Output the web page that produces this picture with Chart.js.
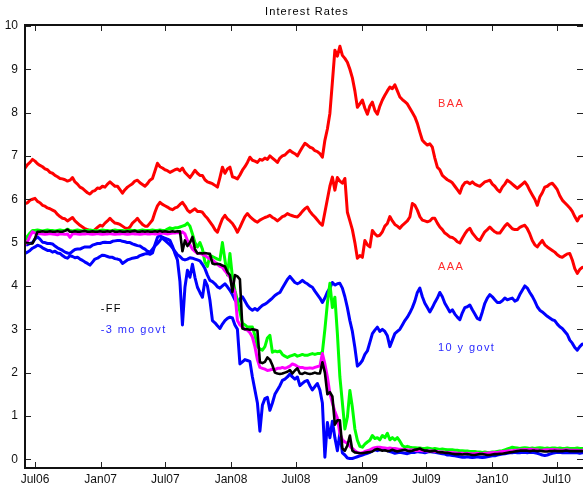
<!DOCTYPE html>
<html>
<head>
<meta charset="utf-8">
<script src="https://cdn.jsdelivr.net/npm/chart.js@4/dist/chart.umd.min.js"></script>
<style>
  html, body { margin: 0; padding: 0; background: #fff; }
  #wrap { width: 583px; height: 485px; }
</style>
</head>
<body>
<div id="wrap"><canvas id="c" width="583" height="485"></canvas></div>
<script>
// Weekly observations starting on this date, one value per week.
const firstWeek = '2006-06-03';
const axisOrigin = '2006-07-01';

const chartTitle = 'Interest Rates';
const xTickDates = ['2006-07-01', '2007-01-01', '2007-07-01', '2008-01-01', '2008-07-01',
                    '2009-01-01', '2009-07-01', '2010-01-01', '2010-07-01'];
const xTickLabels = ['Jul06', 'Jan07', 'Jul07', 'Jan08', 'Jul08', 'Jan09', 'Jul09', 'Jan10', 'Jul10'];
const yTicks = [0, 1, 2, 3, 4, 5, 6, 7, 8, 9, 10];

const baa = [
  6.72, 6.80, 6.85, 6.92, 6.88, 6.82, 6.78, 6.75, 6.70, 6.68,
  6.62, 6.60, 6.55, 6.52, 6.48, 6.47, 6.45, 6.42, 6.44, 6.50,
  6.40, 6.35, 6.28, 6.25, 6.20, 6.15, 6.12, 6.18, 6.20, 6.26,
  6.25, 6.30, 6.28, 6.35, 6.40, 6.35, 6.30, 6.30, 6.22, 6.14,
  6.22, 6.28, 6.32, 6.36, 6.42, 6.44, 6.38, 6.34, 6.30, 6.36,
  6.44, 6.48, 6.65, 6.83, 6.75, 6.72, 6.68, 6.66, 6.62, 6.65,
  6.68, 6.70, 6.66, 6.72, 6.62, 6.56, 6.50, 6.58, 6.67, 6.60,
  6.55, 6.55, 6.45, 6.40, 6.38, 6.36, 6.32, 6.28, 6.50, 6.74,
  6.60, 6.70, 6.74, 6.52, 6.50, 6.47, 6.56, 6.67, 6.75, 6.85,
  6.97, 6.90, 6.88, 6.85, 6.92, 6.90, 6.95, 6.92, 7.00, 6.95,
  6.90, 6.85, 6.95, 7.00, 7.02, 7.08, 7.13, 7.08, 7.05, 7.00,
  7.10, 7.20, 7.29, 7.25, 7.20, 7.18, 7.12, 7.10, 7.05, 6.97,
  7.36, 7.62, 7.98, 8.70, 9.44, 9.30, 9.53, 9.32, 9.25, 9.16,
  9.00, 8.80, 8.50, 8.12, 8.20, 8.29, 8.10, 7.96, 8.15, 8.24,
  8.05, 7.96, 8.15, 8.29, 8.40, 8.50, 8.59, 8.55, 8.64, 8.50,
  8.36, 8.30, 8.25, 8.20, 8.10, 8.00, 7.90, 7.75, 7.55, 7.36,
  7.30, 7.25, 7.28, 7.20, 6.95, 6.74, 6.68, 6.55, 6.50, 6.45,
  6.42, 6.38, 6.30, 6.22, 6.14, 6.30, 6.38, 6.40, 6.36, 6.40,
  6.35, 6.32, 6.30, 6.35, 6.40, 6.42, 6.44, 6.35, 6.30, 6.22,
  6.17, 6.28, 6.35, 6.44, 6.40, 6.35, 6.30, 6.25, 6.30, 6.35,
  6.40, 6.32, 6.20, 6.10, 6.00, 5.86, 6.05, 6.15, 6.28, 6.30,
  6.35, 6.37, 6.30, 6.22, 6.08, 5.98, 5.92, 5.86, 5.80, 5.72,
  5.60, 5.50, 5.60, 5.62
];

const aaa = [
  5.90, 5.92, 5.98, 6.00, 6.02, 5.95, 5.92, 5.86, 5.84, 5.80,
  5.78, 5.75, 5.72, 5.65, 5.60, 5.56, 5.55, 5.50, 5.54, 5.58,
  5.50, 5.45, 5.40, 5.36, 5.32, 5.30, 5.26, 5.24, 5.30, 5.35,
  5.40, 5.38, 5.45, 5.50, 5.56, 5.50, 5.45, 5.44, 5.42, 5.38,
  5.34, 5.32, 5.36, 5.45, 5.50, 5.56, 5.48, 5.42, 5.38, 5.38,
  5.45, 5.52, 5.70, 5.85, 5.93, 5.88, 5.85, 5.82, 5.78, 5.76,
  5.80, 5.82, 5.88, 5.93, 5.85, 5.75, 5.70, 5.74, 5.78, 5.72,
  5.72, 5.70, 5.62, 5.56, 5.48, 5.40, 5.30, 5.24, 5.40, 5.55,
  5.63, 5.55, 5.50, 5.44, 5.35, 5.24, 5.35, 5.48, 5.60, 5.67,
  5.60, 5.55, 5.50, 5.47, 5.52, 5.55, 5.58, 5.60, 5.63, 5.58,
  5.55, 5.50, 5.55, 5.60, 5.62, 5.67, 5.64, 5.62, 5.60, 5.59,
  5.65, 5.72, 5.78, 5.82, 5.72, 5.65, 5.59, 5.52, 5.45, 5.40,
  5.70, 6.00, 6.30, 6.51, 6.21, 6.50, 6.42, 6.37, 6.48, 5.70,
  5.50, 5.30, 5.00, 4.64, 4.70, 4.66, 5.05, 4.95, 4.90, 5.28,
  5.20, 5.15, 5.17, 5.25, 5.38, 5.44, 5.60, 5.50, 5.42, 5.38,
  5.33, 5.40, 5.45, 5.50, 5.59, 5.90, 5.86, 5.75, 5.60, 5.52,
  5.50, 5.48, 5.50, 5.56, 5.56, 5.45, 5.36, 5.30, 5.22, 5.18,
  5.13, 5.12, 5.08, 5.02, 4.99, 5.10, 5.20, 5.28, 5.33, 5.22,
  5.15, 5.08, 5.05, 5.15, 5.25, 5.30, 5.36, 5.30, 5.25, 5.22,
  5.22, 5.30, 5.38, 5.44, 5.38, 5.32, 5.30, 5.30, 5.35, 5.38,
  5.40, 5.32, 5.20, 5.05, 4.95, 4.90, 4.98, 5.05, 4.95, 4.90,
  4.86, 4.82, 4.78, 4.72, 4.68, 4.66, 4.70, 4.74, 4.75, 4.60,
  4.40, 4.29, 4.38, 4.43
];

const govt10y = [
  4.75, 4.78, 4.82, 4.87, 4.90, 4.94, 4.92, 4.88, 4.85, 4.82,
  4.82, 4.78, 4.80, 4.76, 4.75, 4.70, 4.66, 4.64, 4.70, 4.68,
  4.65, 4.66, 4.62, 4.59, 4.55, 4.52, 4.48, 4.55, 4.62, 4.64,
  4.68, 4.71, 4.70, 4.68, 4.66, 4.66, 4.63, 4.62, 4.60, 4.52,
  4.56, 4.60, 4.62, 4.64, 4.65, 4.66, 4.70, 4.72, 4.74, 4.75,
  4.73, 4.76, 4.95, 5.12, 5.17, 5.10, 5.05, 5.00, 4.95, 4.88,
  4.80, 4.72, 4.68, 4.62, 4.60, 4.62, 4.65, 4.64, 4.62, 4.60,
  4.58, 4.50, 4.40, 4.25, 4.13, 4.10, 4.05, 3.98, 3.95, 4.00,
  4.05, 3.98, 3.90, 3.80, 3.68, 3.60, 3.70, 3.75, 3.65, 3.55,
  3.48, 3.44, 3.48, 3.44, 3.50, 3.55, 3.58, 3.62, 3.67, 3.72,
  3.78, 3.82, 3.85, 3.95, 4.05, 4.15, 4.22, 4.15, 4.08, 4.05,
  4.08, 4.13, 4.08, 4.05, 4.00, 3.97, 3.88, 3.80, 3.72, 3.62,
  3.72, 3.86, 3.95, 4.08, 4.02, 4.05, 4.06, 3.95, 3.75, 3.50,
  3.20, 2.95, 2.58, 2.15, 2.20, 2.28, 2.42, 2.50, 2.70, 2.90,
  2.98, 3.05, 2.95, 3.00, 2.95, 2.85, 2.60, 2.75, 2.90, 2.95,
  3.00, 3.10, 3.20, 3.28, 3.38, 3.50, 3.65, 3.85, 3.95, 3.75,
  3.60, 3.50, 3.40, 3.50, 3.62, 3.72, 3.85, 3.75, 3.60, 3.50,
  3.40, 3.45, 3.35, 3.28, 3.22, 3.38, 3.50, 3.52, 3.56, 3.45,
  3.35, 3.25, 3.22, 3.40, 3.60, 3.72, 3.80, 3.75, 3.68, 3.62,
  3.62, 3.66, 3.72, 3.68, 3.70, 3.72, 3.65, 3.68, 3.80, 3.90,
  4.00, 3.95, 3.85, 3.76, 3.65, 3.52, 3.44, 3.40, 3.35, 3.30,
  3.26, 3.22, 3.20, 3.12, 3.06, 3.02, 2.95, 2.88, 2.75, 2.68,
  2.58, 2.52, 2.60, 2.66
];

const govt3m = [
  4.95, 4.95, 4.98, 5.00, 5.08, 5.13, 5.08, 5.01, 5.00, 4.98,
  4.98, 4.97, 4.92, 4.88, 4.85, 4.82, 4.78, 4.76, 4.75, 4.80,
  4.84, 4.85, 4.85, 4.88, 4.90, 4.90, 4.90, 4.94, 4.96, 4.98,
  4.98, 5.00, 5.01, 5.00, 5.00, 5.03, 5.04, 5.05, 5.05, 5.03,
  5.02, 5.00, 5.00, 4.97, 4.95, 4.93, 4.92, 4.88, 4.85, 4.80,
  4.78, 4.85, 4.92, 4.98, 5.05, 5.13, 5.10, 5.08, 5.05, 4.92,
  4.75, 4.60, 4.10, 3.10, 3.97, 4.36, 4.20, 4.50, 4.20, 3.97,
  3.85, 3.74, 4.13, 4.00, 3.67, 3.20, 3.15, 3.08, 3.02, 3.12,
  3.20, 3.25, 3.28, 3.26, 3.10, 3.00, 2.20, 2.25, 2.30, 2.28,
  2.26, 1.90, 1.60, 1.30, 0.65, 1.25, 1.40, 1.43, 1.13, 1.30,
  1.50, 1.60, 1.70, 1.82, 1.85, 1.90, 1.97, 1.90, 1.85, 1.90,
  1.70, 1.75, 1.80, 1.82, 1.70, 1.60, 1.68, 1.75, 1.60, 1.30,
  0.05, 0.85, 0.50, 0.88, 0.50, 0.20, 0.60, 0.15, 0.10, 0.03,
  0.02, 0.02, 0.04, 0.06, 0.08, 0.10, 0.12, 0.14, 0.16, 0.20,
  0.22, 0.20, 0.22, 0.25, 0.22, 0.20, 0.18, 0.16, 0.14, 0.15,
  0.16, 0.15, 0.14, 0.13, 0.15, 0.16, 0.16, 0.18, 0.17, 0.16,
  0.15, 0.17, 0.18, 0.17, 0.16, 0.15, 0.14, 0.13, 0.12, 0.10,
  0.10, 0.09, 0.08, 0.07, 0.06, 0.05, 0.05, 0.06, 0.05, 0.04,
  0.05, 0.06, 0.05, 0.04, 0.05, 0.06, 0.07, 0.08, 0.08, 0.10,
  0.11, 0.12, 0.13, 0.14, 0.15, 0.15, 0.16, 0.15, 0.15, 0.16,
  0.16, 0.15, 0.16, 0.16, 0.15, 0.14, 0.12, 0.10, 0.09, 0.10,
  0.12, 0.14, 0.15, 0.16, 0.16, 0.15, 0.15, 0.15, 0.15, 0.15,
  0.15, 0.15, 0.14, 0.15
];

const fedFunds = [
  5.00, 4.99, 4.98, 4.98, 5.10, 5.25, 5.25, 5.26, 5.25, 5.25,
  5.26, 5.25, 5.25, 5.26, 5.25, 5.25, 5.27, 5.30, 5.25, 5.25,
  5.26, 5.25, 5.25, 5.26, 5.27, 5.25, 5.25, 5.26, 5.25, 5.25,
  5.26, 5.25, 5.25, 5.26, 5.25, 5.27, 5.25, 5.25, 5.26, 5.25,
  5.25, 5.26, 5.25, 5.26, 5.27, 5.25, 5.25, 5.26, 5.25, 5.26,
  5.25, 5.25, 5.26, 5.25, 5.27, 5.25, 5.26, 5.25, 5.25, 5.26,
  5.25, 5.26, 5.26, 4.80, 5.05, 4.92, 5.00, 5.13, 4.85, 4.75,
  4.76, 4.75, 4.76, 4.75, 4.74, 4.52, 4.50, 4.51, 4.50, 4.47,
  4.45, 4.32, 4.25, 3.86, 4.25, 4.22, 4.15, 3.02, 3.00, 3.00,
  2.99, 3.00, 2.99, 2.97, 2.24, 2.22, 2.25, 2.35, 2.30, 2.17,
  2.00, 1.98, 1.97, 1.98, 2.00, 2.02, 2.06, 1.98, 2.05, 2.10,
  1.98, 1.97, 2.00, 1.98, 1.97, 1.98, 2.00, 1.98, 1.98, 2.24,
  2.00, 1.50, 1.55, 1.45, 0.80, 0.90, 0.90, 0.25, 0.20, 0.32,
  0.55, 0.20, 0.16, 0.15, 0.14, 0.14, 0.15, 0.16, 0.17, 0.18,
  0.22, 0.24, 0.22, 0.20, 0.21, 0.19, 0.20, 0.22, 0.20, 0.18,
  0.20, 0.21, 0.22, 0.20, 0.19, 0.20, 0.22, 0.23, 0.25, 0.22,
  0.20, 0.20, 0.18, 0.19, 0.20, 0.17, 0.16, 0.16, 0.15, 0.15,
  0.14, 0.13, 0.12, 0.12, 0.12, 0.11, 0.12, 0.12, 0.11, 0.10,
  0.10, 0.11, 0.12, 0.12, 0.11, 0.10, 0.10, 0.11, 0.12, 0.12,
  0.13, 0.13, 0.14, 0.15, 0.16, 0.17, 0.18, 0.19, 0.20, 0.20,
  0.20, 0.20, 0.19, 0.20, 0.20, 0.19, 0.20, 0.19, 0.18, 0.18,
  0.19, 0.19, 0.20, 0.19, 0.19, 0.19, 0.20, 0.20, 0.19, 0.19,
  0.19, 0.19, 0.19, 0.19
];

const magentaRate = [
  4.95, 5.02, 5.15, 5.25, 5.22, 5.20, 5.21, 5.20, 5.19, 5.20,
  5.21, 5.20, 5.19, 5.18, 5.20, 5.20, 5.19, 5.20, 5.12, 5.20,
  5.21, 5.20, 5.19, 5.20, 5.20, 5.21, 5.20, 5.19, 5.20, 5.21,
  5.20, 5.19, 5.20, 5.20, 5.21, 5.20, 5.19, 5.20, 5.20, 5.21,
  5.20, 5.19, 5.20, 5.21, 5.20, 5.20, 5.19, 5.20, 5.21, 5.20,
  5.20, 5.21, 5.20, 5.20, 5.21, 5.22, 5.21, 5.20, 5.21, 5.22,
  5.22, 5.23, 5.22, 5.25, 5.20, 5.05, 4.95, 4.85, 4.80, 4.75,
  4.75, 4.73, 4.70, 4.66, 4.62, 4.60, 4.55, 4.50, 4.45, 4.43,
  4.35, 4.28, 4.20, 4.00, 3.86, 3.20, 3.10, 3.05, 3.00, 2.98,
  2.92, 2.82, 2.60, 2.30, 2.12, 2.10, 2.08, 2.05, 2.06, 2.08,
  2.07, 2.10, 2.10, 2.12, 2.10, 2.12, 2.15, 2.20, 2.18, 2.14,
  2.12, 2.12, 2.10, 2.10, 2.11, 2.10, 2.12, 2.14, 2.15, 2.44,
  2.20, 1.90, 1.52, 1.30, 1.10, 0.95, 0.60, 0.45, 0.40, 0.37,
  0.30, 0.25, 0.20, 0.16, 0.14, 0.15, 0.18, 0.20, 0.22, 0.25,
  0.27, 0.28, 0.28, 0.27, 0.26, 0.25, 0.26, 0.25, 0.25, 0.24,
  0.23, 0.23, 0.22, 0.22, 0.21, 0.22, 0.21, 0.20, 0.21, 0.20,
  0.20, 0.19, 0.20, 0.19, 0.18, 0.18, 0.17, 0.17, 0.16, 0.16,
  0.16, 0.15, 0.15, 0.14, 0.14, 0.14, 0.13, 0.14, 0.13, 0.13,
  0.13, 0.14, 0.13, 0.13, 0.14, 0.14, 0.15, 0.15, 0.16, 0.16,
  0.17, 0.18, 0.18, 0.19, 0.20, 0.20, 0.21, 0.21, 0.22, 0.22,
  0.23, 0.22, 0.23, 0.23, 0.22, 0.22, 0.21, 0.21, 0.22, 0.22,
  0.22, 0.23, 0.22, 0.22, 0.21, 0.21, 0.22, 0.22, 0.21, 0.21,
  0.21, 0.21, 0.20, 0.21
];

const greenRate = [
  5.05, 5.15, 5.22, 5.28, 5.28, 5.29, 5.28, 5.27, 5.28, 5.29,
  5.28, 5.28, 5.27, 5.28, 5.29, 5.28, 5.28, 5.31, 5.28, 5.27,
  5.28, 5.29, 5.28, 5.27, 5.28, 5.28, 5.29, 5.28, 5.28, 5.27,
  5.28, 5.29, 5.28, 5.28, 5.27, 5.28, 5.29, 5.28, 5.28, 5.28,
  5.27, 5.28, 5.29, 5.28, 5.28, 5.27, 5.28, 5.29, 5.28, 5.28,
  5.28, 5.29, 5.28, 5.28, 5.29, 5.28, 5.28, 5.31, 5.34, 5.32,
  5.34, 5.34, 5.36, 5.38, 5.40, 5.45, 5.38, 5.20, 5.00, 4.90,
  5.00, 4.85, 4.55, 4.45, 4.70, 4.68, 4.65, 4.62, 4.60, 5.00,
  4.60, 4.25, 4.75, 4.20, 3.90, 3.67, 3.40, 3.14, 3.10, 3.05,
  3.05, 3.05, 2.86, 2.60, 2.55, 2.52, 2.60, 2.80, 2.86, 2.47,
  2.50, 2.48, 2.50, 2.42, 2.38, 2.35, 2.38, 2.40, 2.42, 2.38,
  2.40, 2.42, 2.40, 2.40, 2.42, 2.44, 2.42, 2.44, 2.44, 2.47,
  3.00, 3.60, 4.06, 3.50, 3.74, 2.90, 1.90, 1.30, 0.70, 0.97,
  1.59, 1.20, 0.70, 0.44, 0.30, 0.28, 0.35, 0.40, 0.44, 0.55,
  0.48, 0.50, 0.45, 0.55, 0.50, 0.60, 0.45, 0.50, 0.45, 0.50,
  0.42, 0.32, 0.28, 0.30, 0.28, 0.27, 0.27, 0.26, 0.26, 0.25,
  0.25, 0.26, 0.25, 0.24, 0.25, 0.24, 0.23, 0.24, 0.23, 0.22,
  0.22, 0.22, 0.21, 0.21, 0.20, 0.20, 0.19, 0.19, 0.18, 0.18,
  0.18, 0.17, 0.17, 0.16, 0.17, 0.16, 0.16, 0.17, 0.17, 0.18,
  0.19, 0.20, 0.22, 0.24, 0.26, 0.28, 0.27, 0.26, 0.25, 0.26,
  0.27, 0.26, 0.25, 0.26, 0.25, 0.26, 0.27, 0.26, 0.25, 0.26,
  0.25, 0.26, 0.26, 0.25, 0.26, 0.25, 0.25, 0.26, 0.25, 0.25,
  0.25, 0.26, 0.25, 0.25
];

// In-plot series captions: text, anchor date (left edge), rate, colour.
const seriesLabels = [
  { text: 'BAA',        date: '2009-08-03', rate: 8.20, color: '#ff2a2a' },
  { text: 'AAA',        date: '2009-08-03', rate: 4.43, color: '#ff2a2a' },
  { text: '10 y govt',  date: '2009-08-03', rate: 2.56, color: '#2a2aff' },
  { text: '-FF',        date: '2007-01-01', rate: 3.46, color: '#000000' },
  { text: '-3 mo govt', date: '2007-01-01', rate: 2.98, color: '#2a2aff' }
];

const DAY_MS = 86400000;
function dayOf(s) {
  return (Date.parse(s + 'T00:00:00Z') - Date.parse(axisOrigin + 'T00:00:00Z')) / DAY_MS;
}
const startDay = dayOf(firstWeek);
const xTickDays = xTickDates.map(dayOf);

function toPoints(values) {
  return values.map((v, i) => ({ x: startDay + 7 * i, y: v }));
}

const FONT = "'Liberation Sans', Arial, sans-serif";

function lineSet(label, values, color, width) {
  return {
    label,
    data: toPoints(values),
    borderColor: color,
    backgroundColor: color,
    borderWidth: width,
    pointRadius: 0,
    tension: 0,
    borderJoinStyle: 'round',
    borderCapStyle: 'round',
    fill: false
  };
}

// Frame: title, inward tick marks on all four sides, axis rules and series captions.
const framePlugin = {
  id: 'frame',
  afterDatasetsDraw(chart) {
    const { ctx, chartArea: a, scales: { x, y } } = chart;
    ctx.save();
    ctx.strokeStyle = '#222';
    ctx.lineWidth = 1;
    ctx.beginPath();
    xTickDays.forEach(d => {
      const px = Math.round(x.getPixelForValue(d)) + 0.5;
      ctx.moveTo(px, a.top); ctx.lineTo(px, a.top + 6);
      ctx.moveTo(px, a.bottom); ctx.lineTo(px, a.bottom - 6);
    });
    yTicks.forEach(v => {
      const py = Math.round(y.getPixelForValue(v)) + 0.5;
      ctx.moveTo(a.left, py); ctx.lineTo(a.left + 6, py);
      ctx.moveTo(a.right, py); ctx.lineTo(a.right - 6, py);
    });
    ctx.stroke();

    ctx.strokeStyle = '#111';
    ctx.lineWidth = 2;
    ctx.beginPath();
    ctx.moveTo(a.left, a.top); ctx.lineTo(a.right, a.top);
    ctx.moveTo(a.left, a.top - 1); ctx.lineTo(a.left, a.bottom + 1);
    ctx.moveTo(a.left - 1, a.bottom); ctx.lineTo(a.right, a.bottom);
    ctx.stroke();

    ctx.textBaseline = 'middle';
    const spaced = 'letterSpacing' in ctx;

    ctx.font = '11px ' + FONT;
    ctx.textAlign = 'center';
    ctx.fillStyle = '#000';
    if (spaced) ctx.letterSpacing = '1.1px';
    ctx.fillText(chartTitle, (a.left + a.right) / 2 + 3, 12);

    ctx.font = '11px ' + FONT;
    ctx.textAlign = 'left';
    if (spaced) ctx.letterSpacing = '1.4px';
    seriesLabels.forEach(l => {
      ctx.fillStyle = l.color;
      ctx.fillText(l.text, x.getPixelForValue(dayOf(l.date)), y.getPixelForValue(l.rate));
    });
    ctx.restore();
  }
};

new Chart(document.getElementById('c'), {
  type: 'line',
  data: {
    datasets: [
      lineSet('FF', fedFunds, '#000000', 2.6),
      lineSet('magenta', magentaRate, '#ff00ff', 3),
      lineSet('green', greenRate, '#00ff00', 3),
      lineSet('3 mo govt', govt3m, '#0000ff', 3),
      lineSet('10 y govt', govt10y, '#0000ff', 3),
      lineSet('AAA', aaa, '#ff0000', 3),
      lineSet('BAA', baa, '#ff0000', 3)
    ]
  },
  options: {
    responsive: false,
    devicePixelRatio: 1,
    animation: false,
    events: [],
    layout: { padding: { top: 25, left: 0, right: 0, bottom: 0 } },
    plugins: {
      legend: { display: false },
      tooltip: { enabled: false },
      title: { display: false }
    },
    scales: {
      x: {
        type: 'linear',
        min: -28,
        max: 1535,
        grid: { display: false, drawTicks: false },
        border: { display: false },
        afterBuildTicks: (scale) => { scale.ticks = xTickDays.map(v => ({ value: v })); },
        afterFit: (scale) => { scale.height = 17; },
        ticks: {
          autoSkip: false,
          maxRotation: 0,
          padding: 4,
          color: '#111',
          font: { family: FONT, size: 12 },
          callback: (v) => xTickLabels[xTickDays.indexOf(v)] ?? ''
        }
      },
      y: {
        type: 'linear',
        min: -0.2,
        max: 10.02,
        grid: { display: false, drawTicks: false },
        border: { display: false },
        afterBuildTicks: (scale) => { scale.ticks = yTicks.map(v => ({ value: v })); },
        afterFit: (scale) => { scale.width = 25; },
        ticks: {
          padding: 7,
          color: '#111',
          font: { family: FONT, size: 12 },
          callback: (v) => String(v)
        }
      }
    }
  },
  plugins: [framePlugin]
});
</script>
</body>
</html>
